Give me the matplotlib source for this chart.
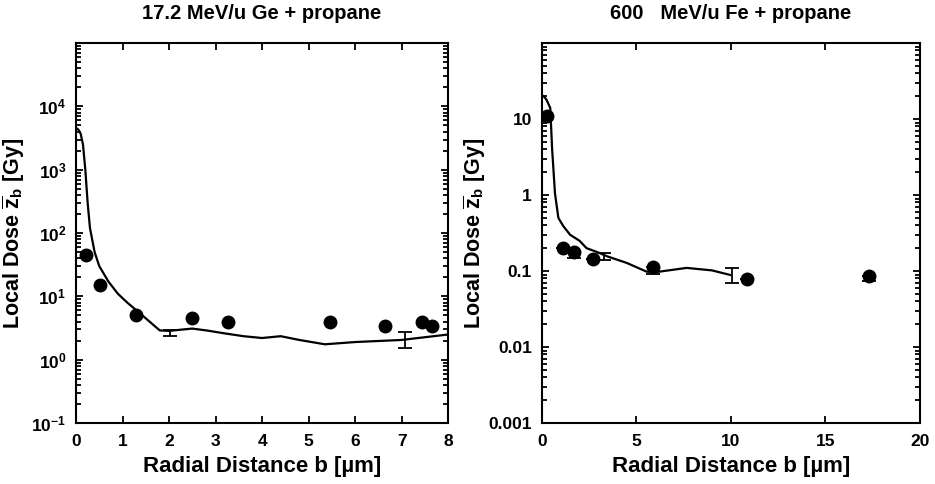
import numpy as np
import matplotlib
matplotlib.use('Agg')
import matplotlib.pyplot as plt
from matplotlib.ticker import FixedLocator, LogLocator, NullFormatter, FuncFormatter

# left panel: 17.2 MeV/u Ge + propane
ge_pts_x = [0.21, 0.52, 1.30, 2.49, 3.27, 5.47, 6.64, 7.43, 7.66]
ge_pts_y = [45, 15, 5.1, 4.5, 3.9, 3.9, 3.45, 3.9, 3.45]
ge_err_x = [2.02, 7.07]
ge_err_y = [2.7, 2.0]
ge_err_lo = [0.3, 0.47]
ge_err_hi = [0.25, 0.7]
ge_line_x = [0, 0.05, 0.1, 0.15, 0.2, 0.25, 0.3, 0.4, 0.5, 0.7, 0.9, 1.1, 1.4,
             1.8, 2.0, 2.2, 2.5, 2.8, 3.2, 3.6, 4.0, 4.4, 4.8, 5.35, 6.0, 7.0, 8.0]
ge_line_y = [4600, 4300, 3700, 2500, 1000, 300, 120, 50, 30, 17, 11, 8, 5.2,
             2.9, 2.85, 2.95, 3.1, 2.9, 2.6, 2.35, 2.2, 2.35, 2.05, 1.75, 1.9, 2.05, 2.5]

# right panel: 600 MeV/u Fe + propane
fe_pts_x = [0.26, 1.15, 1.73, 2.7, 5.9, 10.84, 17.3]
fe_pts_y = [11, 0.2, 0.178, 0.146, 0.112, 0.078, 0.087]
fe_pts_lo = [0, 0, 0.028, 0, 0.02, 0, 0.013]
fe_pts_hi = [0, 0, 0.0, 0, 0.0, 0, 0.0]
fe_err_x = [3.31, 10.08]
fe_err_y = [0.155, 0.088]
fe_err_lo = [0.017, 0.019]
fe_err_hi = [0.018, 0.022]
fe_line_x = [0.1, 0.25, 0.45, 0.55, 0.7, 0.88, 1.14, 1.5, 2.0, 2.37, 3.0, 3.43,
             4.49, 5.55, 6.2, 7.66, 9.0, 9.95]
fe_line_y = [20, 18, 14, 4, 1.05, 0.5, 0.39, 0.3, 0.25, 0.2, 0.175, 0.157,
             0.128, 0.098, 0.098, 0.11, 0.102, 0.089]

plt.rcParams['font.family'] = ['Liberation Sans', 'DejaVu Sans']
plt.rcParams['font.weight'] = 'bold'
plt.rcParams['axes.labelweight'] = 'bold'
plt.rcParams['axes.titleweight'] = 'bold'
plt.rcParams['mathtext.fontset'] = 'custom'
plt.rcParams['mathtext.rm'] = 'Liberation Sans:bold'
plt.rcParams['mathtext.it'] = 'Liberation Sans:bold'
plt.rcParams['mathtext.bf'] = 'Liberation Sans:bold'
plt.rcParams['mathtext.default'] = 'bf'

fig = plt.figure(figsize=(9.35, 4.84), dpi=100)
ax1 = fig.add_axes([0.0813, 0.126, 0.398, 0.785])
ax2 = fig.add_axes([0.5794, 0.126, 0.4046, 0.785])

ylab = r'Local Dose $\overline{z}_b$ [Gy]'
xlab = 'Radial Distance b [µm]'


def style(ax, ylab_x):
    ax.set_yscale('log')
    for s in ax.spines.values():
        s.set_linewidth(1.5)
    ax.tick_params(which='both', direction='in', top=True, right=True,
                   width=1.3, labelsize=12.5)
    ax.tick_params(which='major', length=5)
    ax.tick_params(which='minor', length=3.5)
    ax.tick_params(axis='x', which='both', pad=8)
    ax.tick_params(axis='y', which='both', pad=7)
    ax.tick_params(axis='x', which='minor', top=False, bottom=False)
    ax.yaxis.set_minor_locator(LogLocator(base=10, subs=np.arange(2, 10), numticks=20))
    ax.yaxis.set_minor_formatter(NullFormatter())
    ax.set_xlabel(xlab, fontsize=16, labelpad=5)
    ax.set_ylabel(ylab, fontsize=15.5)
    ax.yaxis.set_label_coords(ylab_x, 0.5)


# left
style(ax1, -0.132)
ax1.plot(ge_line_x, ge_line_y, color='black', lw=1.6)
ax1.plot(ge_pts_x, ge_pts_y, 'o', color='black', ms=9)
ax1.errorbar(ge_err_x, ge_err_y, yerr=[ge_err_lo, ge_err_hi], fmt='none',
             ecolor='black', elinewidth=1.3, capsize=5, capthick=1.3)
ax1.set_xlim(0, 8)
ax1.set_ylim(0.1, 1e5)
ax1.yaxis.set_major_locator(FixedLocator([1e-1, 1, 10, 100, 1e3, 1e4, 1e5]))
ax1.yaxis.set_major_formatter(FuncFormatter(
    lambda v, p: '' if v > 2e4 else r'$10^{%d}$' % round(np.log10(v))))
ax1.set_xticks(range(0, 9))
ax1.set_title('17.2 MeV/u Ge + propane', fontsize=14.5, pad=17)

# right
style(ax2, -0.142)
ax2.plot(fe_line_x, fe_line_y, color='black', lw=1.6)
ax2.errorbar(fe_pts_x, fe_pts_y, yerr=[fe_pts_lo, fe_pts_hi], fmt='o', color='black',
             ms=9, elinewidth=1.3, capsize=5, capthick=1.3)
ax2.errorbar(fe_err_x, fe_err_y, yerr=[fe_err_lo, fe_err_hi], fmt='none',
             ecolor='black', elinewidth=1.3, capsize=5, capthick=1.3)
ax2.set_xlim(0, 20)
ax2.set_ylim(0.001, 100)
ax2.yaxis.set_major_locator(FixedLocator([0.001, 0.01, 0.1, 1, 10, 100]))
labels = {0.001: '0.001', 0.01: '0.01', 0.1: '0.1', 1: '1', 10: '10'}
ax2.yaxis.set_major_formatter(FuncFormatter(
    lambda v, p: next((t for k, t in labels.items() if abs(v - k) < k * 1e-6), '')))
ax2.set_xticks([0, 5, 10, 15, 20])
ax2.set_title('600   MeV/u Fe + propane', fontsize=14.5, pad=17)

fig.savefig('out.png', dpi=100)
